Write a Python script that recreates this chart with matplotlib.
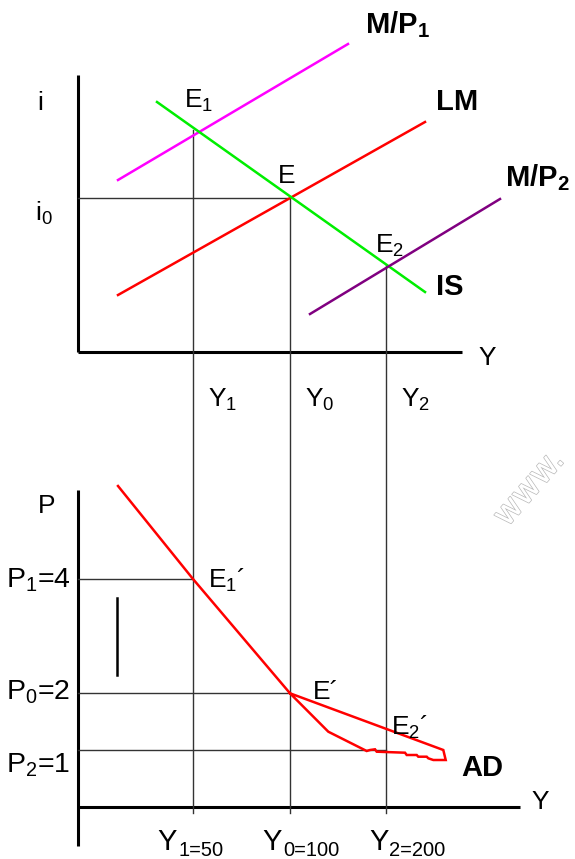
import matplotlib
matplotlib.use("Agg")
import matplotlib.pyplot as plt
import matplotlib.patheffects as pe

plt.rcParams['font.family'] = ['Liberation Sans', 'DejaVu Sans']
plt.rcParams['mathtext.fontset'] = 'custom'
plt.rcParams['mathtext.rm'] = 'Liberation Sans'
plt.rcParams['mathtext.it'] = 'Liberation Sans'
plt.rcParams['mathtext.bf'] = 'Liberation Sans:bold'
plt.rcParams['mathtext.default'] = 'rm'

# ---- diagram data (pixel-space schematic coordinates) ----
mp1_x = [118, 348]; mp1_y = [180, 44]
lm_x = [118, 425];  lm_y = [295, 122]
is_x = [157, 425];  is_y = [102, 292]
mp2_x = [310, 500]; mp2_y = [314, 199]

y_levels = [193, 290, 386]          # Y1, Y0, Y2 positions
y_top = [130, 198, 265]             # E1, E, E2 intersections
i0_level = 198
p_levels = [579, 693, 750]          # P1, P0, P2
p_ends = [193, 290, 386]

ad_x = [118, 193, 290, 443.3, 445.7, 433.3, 428.3, 426.7, 418.3, 416.7, 406.7, 405,
        376.7, 375, 370, 366.7, 363.3, 328.3, 290]
ad_y = [486, 579, 693.3, 750, 760, 760, 758.3, 756.7, 756.7, 755, 755, 752.7,
        751.7, 749.3, 750, 751, 749.3, 731.7, 693.3]

y_labels_top = ['Y$_1$', 'Y$_0$', 'Y$_2$']
y_sub_bot = ['1=50', '0=100', '2=200']
p_labels = ['P$_1$=4', 'P$_0$=2', 'P$_2$=1']
p_label_y = [580, 692, 765]

# label placement (layout)
ybot_main_x = [157, 262, 369]
ybot_sub_x = [178, 283, 389]

fig = plt.figure(figsize=(5.75, 8.59), dpi=100)
ax = fig.add_axes([0, 0, 1, 1])
ax.set_xlim(0, 575)
ax.set_ylim(859, 0)
ax.axis('off')

thin = dict(color='#333333', lw=1.0)

# top panel axes
ax.plot([78, 78], [75, 352], color='black', lw=2.2, solid_capstyle='butt')
ax.plot([78, 462], [352, 352], color='black', lw=2.2, solid_capstyle='butt')
# bottom panel axes
ax.plot([78, 78], [490, 846], color='black', lw=2.2, solid_capstyle='butt')
ax.plot([78, 520], [807, 807], color='black', lw=2.2, solid_capstyle='butt')

# guide lines
for x, yt in zip(y_levels, y_top):
    ax.plot([x, x], [yt, 813], **thin)
ax.plot([78, 290], [i0_level, i0_level], **thin)
for yp, xe in zip(p_levels, p_ends):
    ax.plot([78, xe], [yp, yp], **thin)

# short vertical black line
ax.plot([117, 117], [598, 675], color='black', lw=1.8)

# curves
ax.plot(mp1_x, mp1_y, color='#ff00ff', lw=1.8)
ax.plot(lm_x, lm_y, color='#ff0000', lw=1.8)
ax.plot(is_x, is_y, color='#00ee00', lw=1.8)
ax.plot(mp2_x, mp2_y, color='#800080', lw=1.8)
ax.plot(ad_x, ad_y, color='#ff0000', lw=1.8, solid_joinstyle='miter')

fs = 19
bfs = 21
# top labels
ax.text(40, 103, 'i', fontsize=fs, ha='center', va='center')
ax.text(44, 213, 'i$_0$', fontsize=fs, ha='center', va='center')
ax.text(487, 358, 'Y', fontsize=fs, ha='center', va='center')
ax.text(199, 101, 'E$_1$', fontsize=fs, ha='center', va='center')
ax.text(287, 176, 'E', fontsize=fs, ha='center', va='center')
ax.text(390, 246, 'E$_2$', fontsize=fs, ha='center', va='center')
ax.text(365, 25, r'M/P$_\mathbf{1}$', fontsize=bfs, fontweight='bold', ha='left', va='center')
ax.text(436, 102, 'LM', fontsize=bfs, fontweight='bold', ha='left', va='center')
ax.text(436, 287, 'IS', fontsize=bfs, fontweight='bold', ha='left', va='center')
ax.text(505, 178, r'M/P$_\mathbf{2}$', fontsize=bfs, fontweight='bold', ha='left', va='center')
for x, lab in zip(y_levels, y_labels_top):
    ax.text(x + 15, 400, lab, fontsize=fs, ha='left', va='center')

# bottom labels
ax.text(47, 506, 'P', fontsize=fs, ha='center', va='center')
ax.text(540, 802, 'Y', fontsize=fs, ha='center', va='center')
for yl, lab in zip(p_label_y, p_labels):
    ax.text(6, yl, lab, fontsize=20.5, ha='left', va='center')
ax.text(208, 580, 'E$_1$\u00b4', fontsize=fs, ha='left', va='center')
ax.text(313, 692, 'E\u00b4', fontsize=fs, ha='left', va='center')
ax.text(391, 727, 'E$_2$\u00b4', fontsize=fs, ha='left', va='center')
ax.text(461, 768, 'AD', fontsize=bfs, fontweight='bold', ha='left', va='center')
for mx, sx, sub in zip(ybot_main_x, ybot_sub_x, y_sub_bot):
    ax.text(mx, 850, 'Y', fontsize=21, ha='left', va='baseline')
    ax.text(sx, 856, sub, fontsize=14.5, ha='left', va='baseline')

# faint watermark
ax.text(507, 528, 'www.', fontsize=24, rotation=49, ha='left', va='baseline',
        rotation_mode='anchor', family='DejaVu Sans',
        color='white', path_effects=[pe.withStroke(linewidth=1.0, foreground='#b8b8b8')])

fig.savefig('out.png', dpi=100)
